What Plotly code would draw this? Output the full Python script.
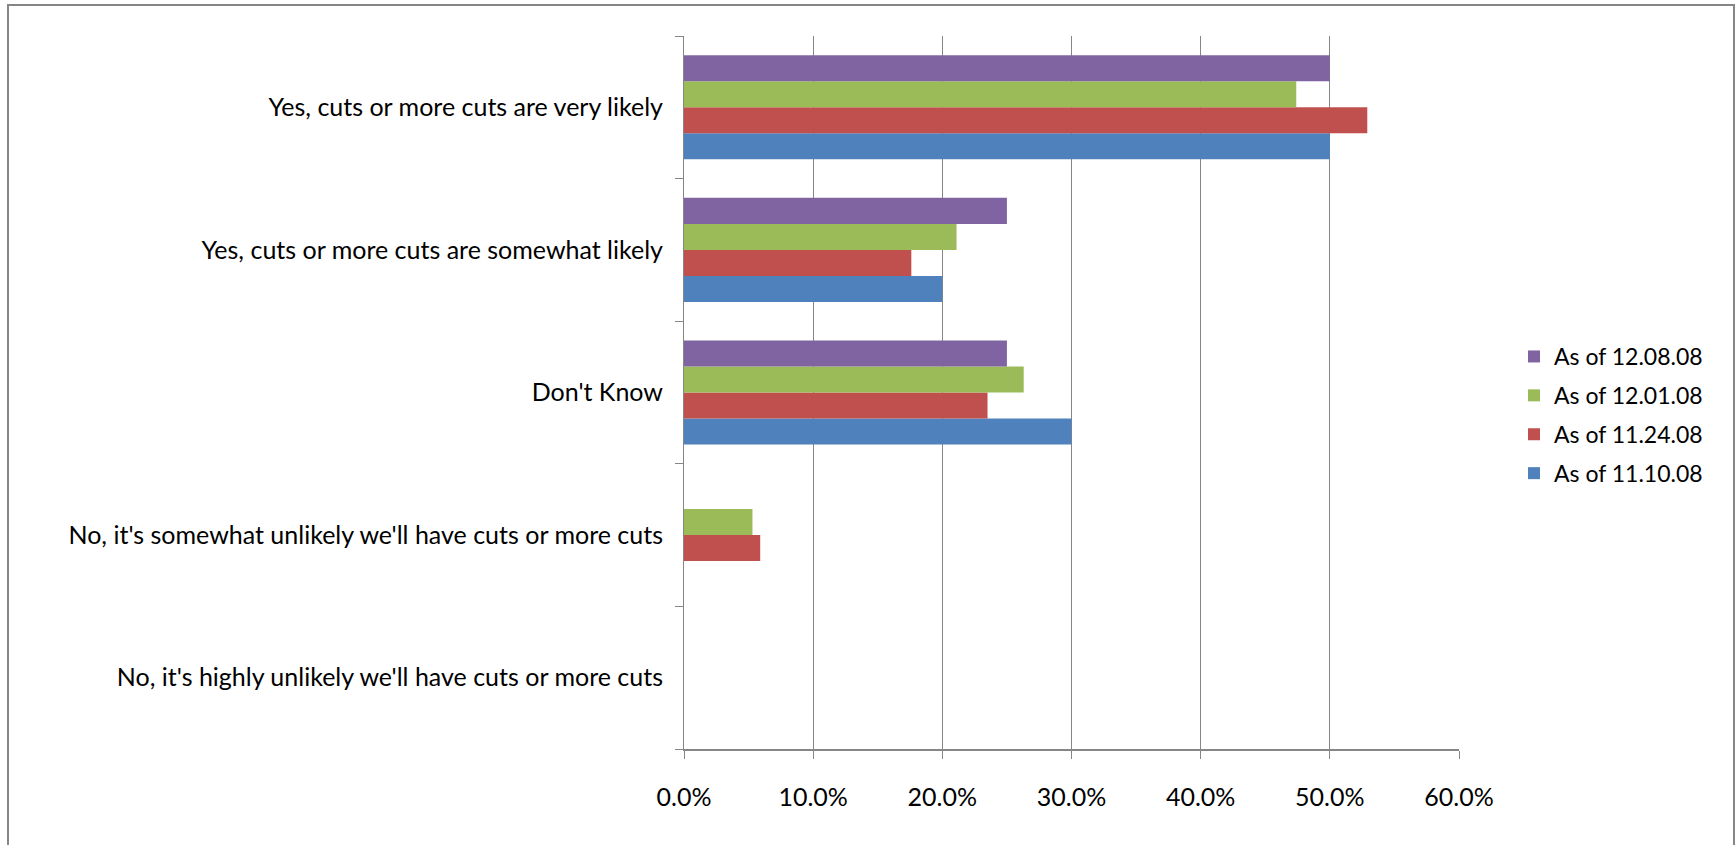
import plotly.graph_objects as go

# Categories listed bottom-to-top
categories = [
    "No, it's highly unlikely we'll have cuts or more cuts",
    "No, it's somewhat unlikely we'll have cuts or more cuts",
    "Don't Know",
    "Yes, cuts or more cuts are somewhat likely",
    "Yes, cuts or more cuts are very likely",
]

series_names = ["As of 11.10.08", "As of 11.24.08", "As of 12.01.08", "As of 12.08.08"]
s_1110 = [0.0, 0.0, 0.300, 0.200, 0.500]
s_1124 = [0.0, 0.059, 0.235, 0.176, 0.529]
s_1201 = [0.0, 0.053, 0.263, 0.211, 0.474]
s_1208 = [0.0, 0.0, 0.250, 0.250, 0.500]
series_values = [s_1110, s_1124, s_1201, s_1208]
colors = ["#4F81BD", "#C0504D", "#9BBB59", "#8064A2"]
x_ticks = [0, 0.1, 0.2, 0.3, 0.4, 0.5, 0.6]
x_tick_labels = ["0.0%", "10.0%", "20.0%", "30.0%", "40.0%", "50.0%", "60.0%"]

FONT = "Lato"

fig = go.Figure()
n = len(series_names)
for i, (name, vals, col) in enumerate(zip(series_names, series_values, colors)):
    fig.add_trace(go.Bar(
        y=categories, x=vals, name=name, orientation="h", legendgroup=name,
        legendrank=1000 + (n - i),
        marker=dict(color=col, line=dict(width=0)),
    ))

W, H = 1735, 845
L, R, T, B = 684, 276, 36, 96
pw, ph = W - L - R, H - T - B

fig.update_layout(
    width=W, height=H,
    margin=dict(l=L, r=R, t=T, b=B, pad=0),
    barmode="group", bargap=0.27, bargroupgap=0,
    plot_bgcolor="white", paper_bgcolor="white",
    font=dict(family=FONT, size=25, color="#000000"),
    showlegend=True,
    legend=dict(
        traceorder="grouped",
        x=(1514 - L) / pw, xanchor="left",
        y=(H - B - 335) / ph, yanchor="top",
        font=dict(family=FONT, size=23),
        itemsizing="constant", tracegroupgap=6,
        bgcolor="rgba(0,0,0,0)",
    ),
    xaxis=dict(
        range=[0, 0.6], tickvals=x_ticks, ticktext=x_tick_labels,
        showgrid=True, gridcolor="#868686", gridwidth=1,
        showline=True, linecolor="#868686", linewidth=2,
        ticks="outside", ticklen=8, tickcolor="#868686", tickwidth=1,
        ticklabelstandoff=17, zeroline=False, fixedrange=True,
        tickfont=dict(size=25),
    ),
    yaxis=dict(
        categoryorder="array", categoryarray=categories,
        showline=True, linecolor="#868686", linewidth=1,
        ticks="outside", ticklen=8, tickcolor="#868686", tickwidth=1,
        tickson="boundaries", showgrid=False,
        ticklabelstandoff=15, fixedrange=True,
        tickfont=dict(size=25),
    ),
    shapes=[dict(
        type="rect", xref="paper", yref="paper",
        x0=(8 - L) / pw, x1=(1734 - L) / pw,
        y0=(H - B - 900) / ph, y1=(H - B - 5) / ph,
        line=dict(color="#868686", width=2), fillcolor="rgba(0,0,0,0)",
        layer="below",
    )],
)

fig.write_html("out.html")
